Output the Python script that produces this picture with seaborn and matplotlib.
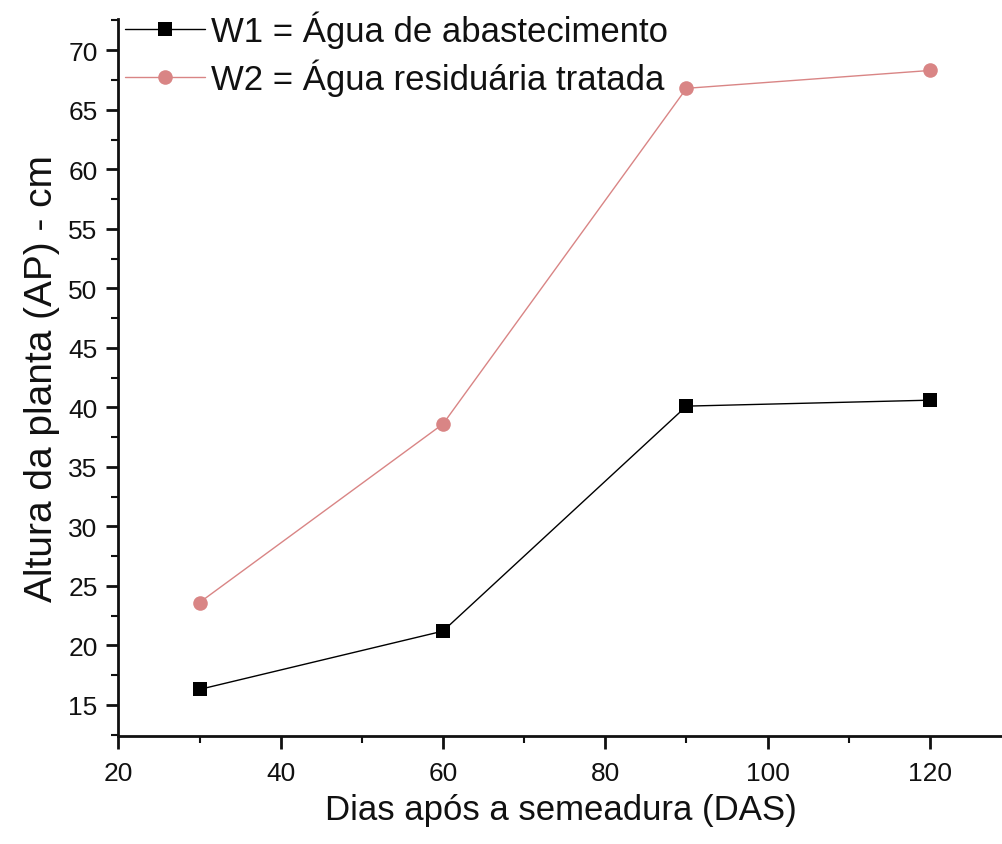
import numpy as np
import pandas as pd
import matplotlib.pyplot as plt
import seaborn as sns
from matplotlib.ticker import MultipleLocator

# Data
dias = [30, 60, 90, 120]
w1_altura = [16.3, 21.2, 40.1, 40.6]
w2_altura = [23.6, 38.6, 66.8, 68.3]
serie_w1 = "W1 = Água de abastecimento"
serie_w2 = "W2 = Água residuária tratada"

sns.set_theme(style="ticks")
plt.rcParams['font.family'] = ['Liberation Sans', 'DejaVu Sans']
plt.rcParams['text.color'] = '#111111'
plt.rcParams['axes.labelcolor'] = '#111111'

df = pd.DataFrame({
    'dias': dias * 2,
    'altura': w1_altura + w2_altura,
    'serie': [serie_w1] * len(dias) + [serie_w2] * len(dias),
})

fig = plt.figure(figsize=(10.03, 8.45), dpi=100)
ax = fig.add_axes([0.118, 0.128, 0.882, 0.848])

sns.lineplot(data=df, x='dias', y='altura', hue='serie', style='serie',
             palette={serie_w1: '#000000', serie_w2: '#d98585'},
             markers={serie_w1: 's', serie_w2: 'o'}, dashes=False,
             linewidth=1.0, markersize=10.5, markeredgewidth=0, ax=ax)

ax.set_xlim(20, 129)
ax.set_ylim(12.4, 72.6)
ax.xaxis.set_major_locator(MultipleLocator(20))
ax.xaxis.set_minor_locator(MultipleLocator(10))
ax.yaxis.set_major_locator(MultipleLocator(5))
ax.yaxis.set_minor_locator(MultipleLocator(2.5))
ax.tick_params(which='major', direction='out', length=9, width=2, labelsize=19,
               colors='#111111', pad=6)
ax.tick_params(axis='x', which='major', pad=9)
ax.tick_params(which='minor', direction='out', length=5, width=1.5, colors='#111111')
for s in ['left', 'bottom']:
    ax.spines[s].set_linewidth(2)
    ax.spines[s].set_color('#111111')
ax.spines['top'].set_visible(False)
ax.spines['right'].set_visible(False)

ax.set_xlabel('Dias após a semeadura (DAS)', fontsize=25, labelpad=6)
ax.set_ylabel('Altura da planta (AP) - cm', fontsize=28, labelpad=6)

ax.legend(loc='upper left', bbox_to_anchor=(0.008, 1.012), frameon=False,
          fontsize=25, handlelength=2.3, handletextpad=0.15, labelspacing=0.3,
          borderaxespad=0, borderpad=0)

plt.savefig('out.png', dpi=100)
